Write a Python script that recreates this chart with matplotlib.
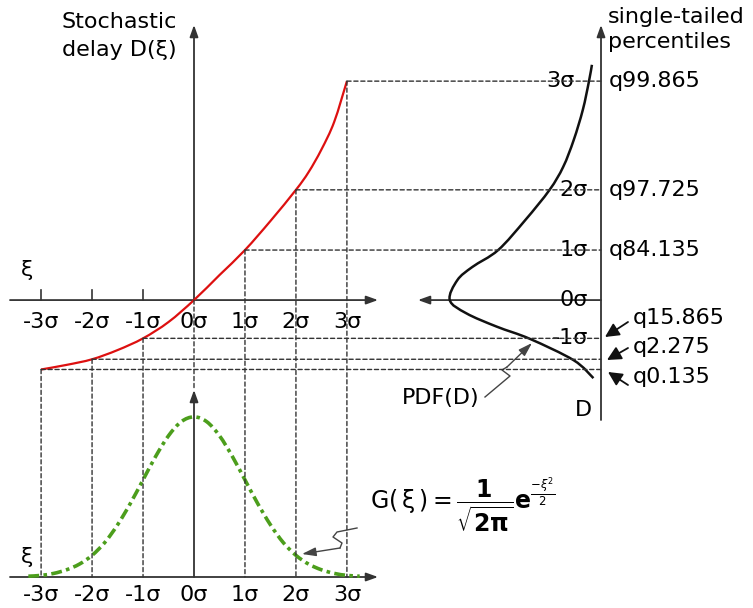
import numpy as np
import matplotlib
matplotlib.use("Agg")
import matplotlib.pyplot as plt
from matplotlib.patches import ConnectionPatch, PathPatch
from matplotlib.path import Path

plt.rcParams['font.family'] = ['DejaVu Sans']
plt.rcParams['mathtext.fontset'] = 'dejavusans'

W, H = 753, 608

# stochastic delay D(xi)
xi_curve = [-3, -2.5, -2, -1.5, -1, -0.5, 0, 0.5, 1, 1.5, 2, 2.25, 2.5, 2.75, 3]
delay_curve = [-1.36, -1.27, -1.16, -0.98, -0.75, -0.43, 0, 0.49, 0.98, 1.55, 2.16, 2.51, 2.95, 3.49, 4.29]

# sigma points that get projected
xi_ticks = [-3, -2, -1, 0, 1, 2, 3]
xi_labels = ['-3σ', '-2σ', '-1σ', '0σ', '1σ', '2σ', '3σ']

# PDF of the delay (relative density vs delay)
pdf_delay = [4.61, 4.28, 3.73, 3.14, 2.61, 2.16, 1.57, 0.98, 0.65, 0.39, 0,
             -0.26, -0.52, -0.76, -1.18, -1.53]
pdf_density = [0.06, 0.08, 0.12, 0.18, 0.25, 0.34, 0.50, 0.68, 0.85, 0.95, 1.0,
               0.89, 0.69, 0.47, 0.18, 0.05]

# standard normal G(xi)
xi_gauss = [-3.25, -3.0, -2.75, -2.5, -2.25, -2.0, -1.75, -1.5, -1.25, -1.0, -0.75, -0.5, -0.25,
            0, 0.25, 0.5, 0.75, 1.0, 1.25, 1.5, 1.75, 2.0, 2.25, 2.5, 2.75, 3.0, 3.25]
g_vals = [0.002, 0.004, 0.009, 0.018, 0.032, 0.054, 0.086, 0.130, 0.183, 0.242, 0.301, 0.352, 0.387,
          0.399, 0.387, 0.352, 0.301, 0.242, 0.183, 0.130, 0.086, 0.054, 0.032, 0.018, 0.009, 0.004, 0.002]

upper_sig = ['3σ', '2σ', '1σ', '0σ', '-1σ']
upper_pct = ['q99.865', 'q97.725', 'q84.135']
lower_pct = ['q15.865', 'q2.275', 'q0.135']

fig = plt.figure(figsize=(W / 100, H / 100), dpi=100)

def box(x0, y0, x1, y1):
    return [x0 / W, 1 - y1 / H, (x1 - x0) / W, (y1 - y0) / H]

ov = fig.add_axes([0, 0, 1, 1])
ov.set_xlim(0, W)
ov.set_ylim(H, 0)
ov.axis('off')

ax_d = fig.add_axes(box(10, 25, 378, 420))
ax_d.set_xlim(-3.61, 3.61)
ax_d.set_ylim(-2.35, 5.39)
ax_p = fig.add_axes(box(418, 25, 601, 420))
ax_p.set_xlim(1.21, 0)
ax_p.set_ylim(-2.35, 5.39)
ax_g = fig.add_axes(box(10, 390, 378, 577))
ax_g.set_xlim(-3.61, 3.61)
ax_g.set_ylim(0, 0.466)
for a in (ax_d, ax_p, ax_g):
    a.axis('off')

AX = '#333333'
FS = 16

def arrow(ax, start, tip, color=AX, lw=1.3, hl=0.5, hw=0.18, ms=14):
    ax.annotate('', xy=tip, xytext=start,
                arrowprops=dict(arrowstyle='-|>,head_length=%g,head_width=%g' % (hl, hw),
                                color=color, lw=lw, shrinkA=0, shrinkB=0, mutation_scale=ms),
                annotation_clip=False)

def smooth(ax, xs, ys, **kw):
    # bezier path through the points (catmull-rom tangents)
    p = np.column_stack([xs, ys]).astype(float)
    pp = np.vstack([p[0], p, p[-1]])
    verts = [p[0]]
    codes = [Path.MOVETO]
    for i in range(len(p) - 1):
        a, b, c, d = pp[i], pp[i + 1], pp[i + 2], pp[i + 3]
        verts += [b + (c - a) / 6, c - (d - b) / 6, c]
        codes += [Path.CURVE4] * 3
    patch = PathPatch(Path(verts, codes), fill=False, clip_on=False, zorder=3, **kw)
    ax.add_patch(patch)

# axes lines
arrow(ax_d, (-3.61, 0), (3.61, 0))
arrow(ax_d, (0, 0), (0, 5.39))
arrow(ax_g, (-3.61, 0), (3.61, 0))
arrow(ax_g, (0, 0), (0, 0.466))
arrow(ax_p, (0, -2.35), (0, 5.39))
arrow(ax_p, (0, 0), (1.21, 0))

for x in xi_ticks[:3]:
    ax_d.plot([x, x], [0, 0.2], color=AX, lw=1.2)

# projection lines
dash = dict(linestyle=(0, (3, 2)), lw=1.0, color='#333333')
d_at = dict(zip(xi_curve, delay_curve))
for x in xi_ticks:
    d = d_at[x]
    if x == 0:
        con = ConnectionPatch((0, 0), (0, 0.466), 'data', 'data', axesA=ax_d, axesB=ax_g, **dash)
        fig.add_artist(con)
        continue
    con = ConnectionPatch((x, d), (x, 0), 'data', 'data', axesA=ax_d, axesB=ax_g, **dash)
    fig.add_artist(con)
    con = ConnectionPatch((x, d), (0, d), 'data', 'data', axesA=ax_d, axesB=ax_p, **dash)
    fig.add_artist(con)

# curves
smooth(ax_d, xi_curve, delay_curve, edgecolor='#dd1010', lw=1.6)
smooth(ax_p, pdf_density, pdf_delay, edgecolor='#111111', lw=1.8)
smooth(ax_g, xi_gauss, g_vals, edgecolor='#4c9e1c', lw=2.6, linestyle=(0, (3, 1.2, 1, 1.2)))

# tick labels
for x, lab in zip(xi_ticks, xi_labels):
    ax_d.annotate(lab, (x, 0), xytext=(0, -22), textcoords='offset pixels',
                  ha='center', va='center', fontsize=FS)
    ax_g.annotate(lab, (x, 0), xytext=(0, -18), textcoords='offset pixels',
                  ha='center', va='center', fontsize=FS)

sig_d = [d_at[3], d_at[2], d_at[1], d_at[0], d_at[-1]]
for lab, d in zip(upper_sig, sig_d):
    off = -27 if lab == '3σ' else -13
    ax_p.annotate(lab, (0, d), xytext=(off, 0), textcoords='offset pixels',
                  ha='right', va='center', fontsize=FS)
for lab, d in zip(upper_pct, sig_d[:3]):
    ax_p.annotate(lab, (0, d), xytext=(8, 0), textcoords='offset pixels',
                  ha='left', va='center', fontsize=FS)

# lower percentiles with pointers
for lab, ty, tail, tip in zip(lower_pct, [318, 347, 377],
                              [(628, 322), (628, 348), (628, 385)],
                              [(605, 337), (607, 360), (608, 372)]):
    ov.text(633, ty, lab, ha='left', va='center', fontsize=FS)
    arrow(ov, tail, tip, color='#111111', lw=1.3, hl=0.6, hw=0.3, ms=14)

# labels
ov.text(62, 22, 'Stochastic', ha='left', va='center', fontsize=FS)
ov.text(62, 50, 'delay D(ξ)', ha='left', va='center', fontsize=FS)
ov.text(608, 17, 'single-tailed', ha='left', va='center', fontsize=FS)
ov.text(608, 42, 'percentiles', ha='left', va='center', fontsize=FS)
ov.text(27, 270, 'ξ', ha='center', va='center', fontsize=FS)
ov.text(27, 557, 'ξ', ha='center', va='center', fontsize=FS)
ov.text(583, 410, 'D', ha='center', va='center', fontsize=FS)
ov.text(441, 398, 'PDF(D)', ha='center', va='center', fontsize=FS)
ov.text(370, 505,
        r'$\mathregular{G(\,\xi\,) = }\dfrac{\mathbf{1}}{\sqrt{\mathbf{2\pi}}}\mathbf{e}^{\frac{-\xi^2}{2}}$',
        ha='left', va='center', fontsize=17)

# wavy pointers
ov.plot([485, 510, 502, 507], [397, 376, 370, 367], color='#444444', lw=1.0)
arrow(ov, (507, 367), (532, 343), color='#444444', lw=1.0, hl=0.7, hw=0.22, ms=12)
ov.plot([357, 337, 333, 342, 340], [528, 532, 537, 543, 548], color='#444444', lw=1.0)
arrow(ov, (340, 548), (302, 554), color='#444444', lw=1.0, hl=0.7, hw=0.22, ms=12)

fig.savefig('out.png', dpi=100)
